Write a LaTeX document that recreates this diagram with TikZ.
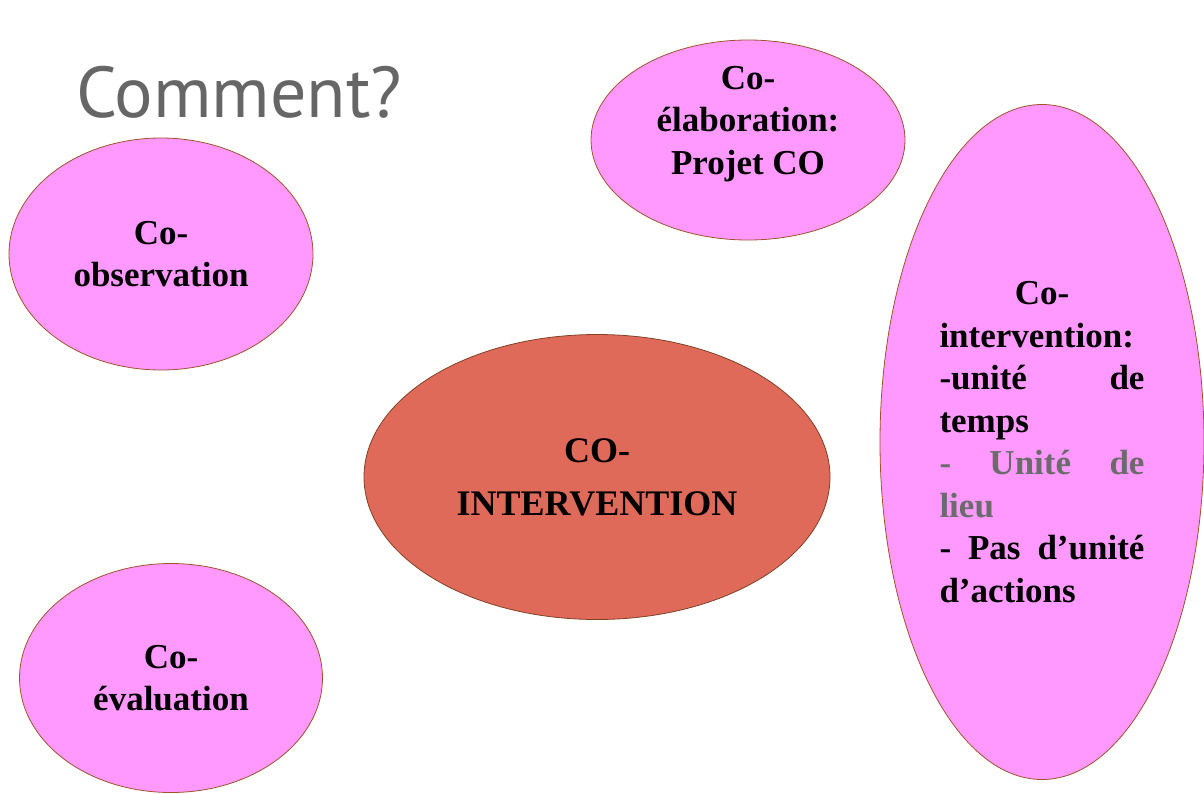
\documentclass[tikz,border=0pt]{standalone}
\usepackage{fontspec}
\setmainfont{Liberation Serif}
\newfontfamily\titlefont{PT Sans}
\usetikzlibrary{shapes.geometric, positioning}
\definecolor{copink}{HTML}{FF99FF}
\definecolor{cored}{HTML}{E06A5A}
\definecolor{coedge}{HTML}{A0522D}
\definecolor{cogray}{HTML}{6B6B6B}
\definecolor{cotitle}{HTML}{666666}

\begin{document}
\begin{tikzpicture}[x=1pt, y=-1pt,
    bubble/.style={ellipse, draw=coedge, line width=0.8pt, fill=copink,
      font=\fontsize{35}{42.5}\selectfont\bfseries, align=center},
    hub/.style={ellipse, draw=coedge!80!black, line width=0.8pt, fill=cored,
      font=\fontsize{36}{53}\selectfont\bfseries, align=center}]
  \useasboundingbox (0,0) rectangle (1204,793);

  % Title
  \node[anchor=base west, inner sep=0pt, text=cotitle,
    font=\titlefont\fontsize{72}{80}\selectfont] (titre) at (76,117) {Comment?};

  % Co-observation
  \node[bubble, minimum width=304pt, minimum height=232pt] (coobs) at (161,254) {Co-\\observation};

  % Co-evaluation
  \node[bubble, minimum width=303pt, minimum height=229pt] (coeval) at (171,678) {Co-\\évaluation};

  % Co-elaboration
  \node[bubble, minimum width=314pt, minimum height=200pt] (coelab) at (748,140) {};
  \node[font=\fontsize{35}{42.5}\selectfont\bfseries, align=center] (coelabtxt) at (748,124)
    {Co-\\élaboration:\\Projet CO};

  % Co-intervention (right)
  \node[bubble, minimum width=324pt, minimum height=675pt, text width=205pt, align=left] (cointer) at (1042,442)
    {\makebox[205pt][c]{Co-}\\
     intervention:\\
     \makebox[205pt][l]{-unité\hfill de}\\
     temps\\
     \textcolor{cogray}{\makebox[205pt][l]{-\hfill Unité\hfill de}}\\
     \textcolor{cogray}{lieu}\\
     \makebox[205pt][l]{-\hfill Pas\hfill d’unité}\\
     d’actions};

  % centre
  \node[hub, minimum width=466pt, minimum height=285pt] (centre) at (597,477) {CO-\\INTERVENTION};
\end{tikzpicture}
\end{document}
